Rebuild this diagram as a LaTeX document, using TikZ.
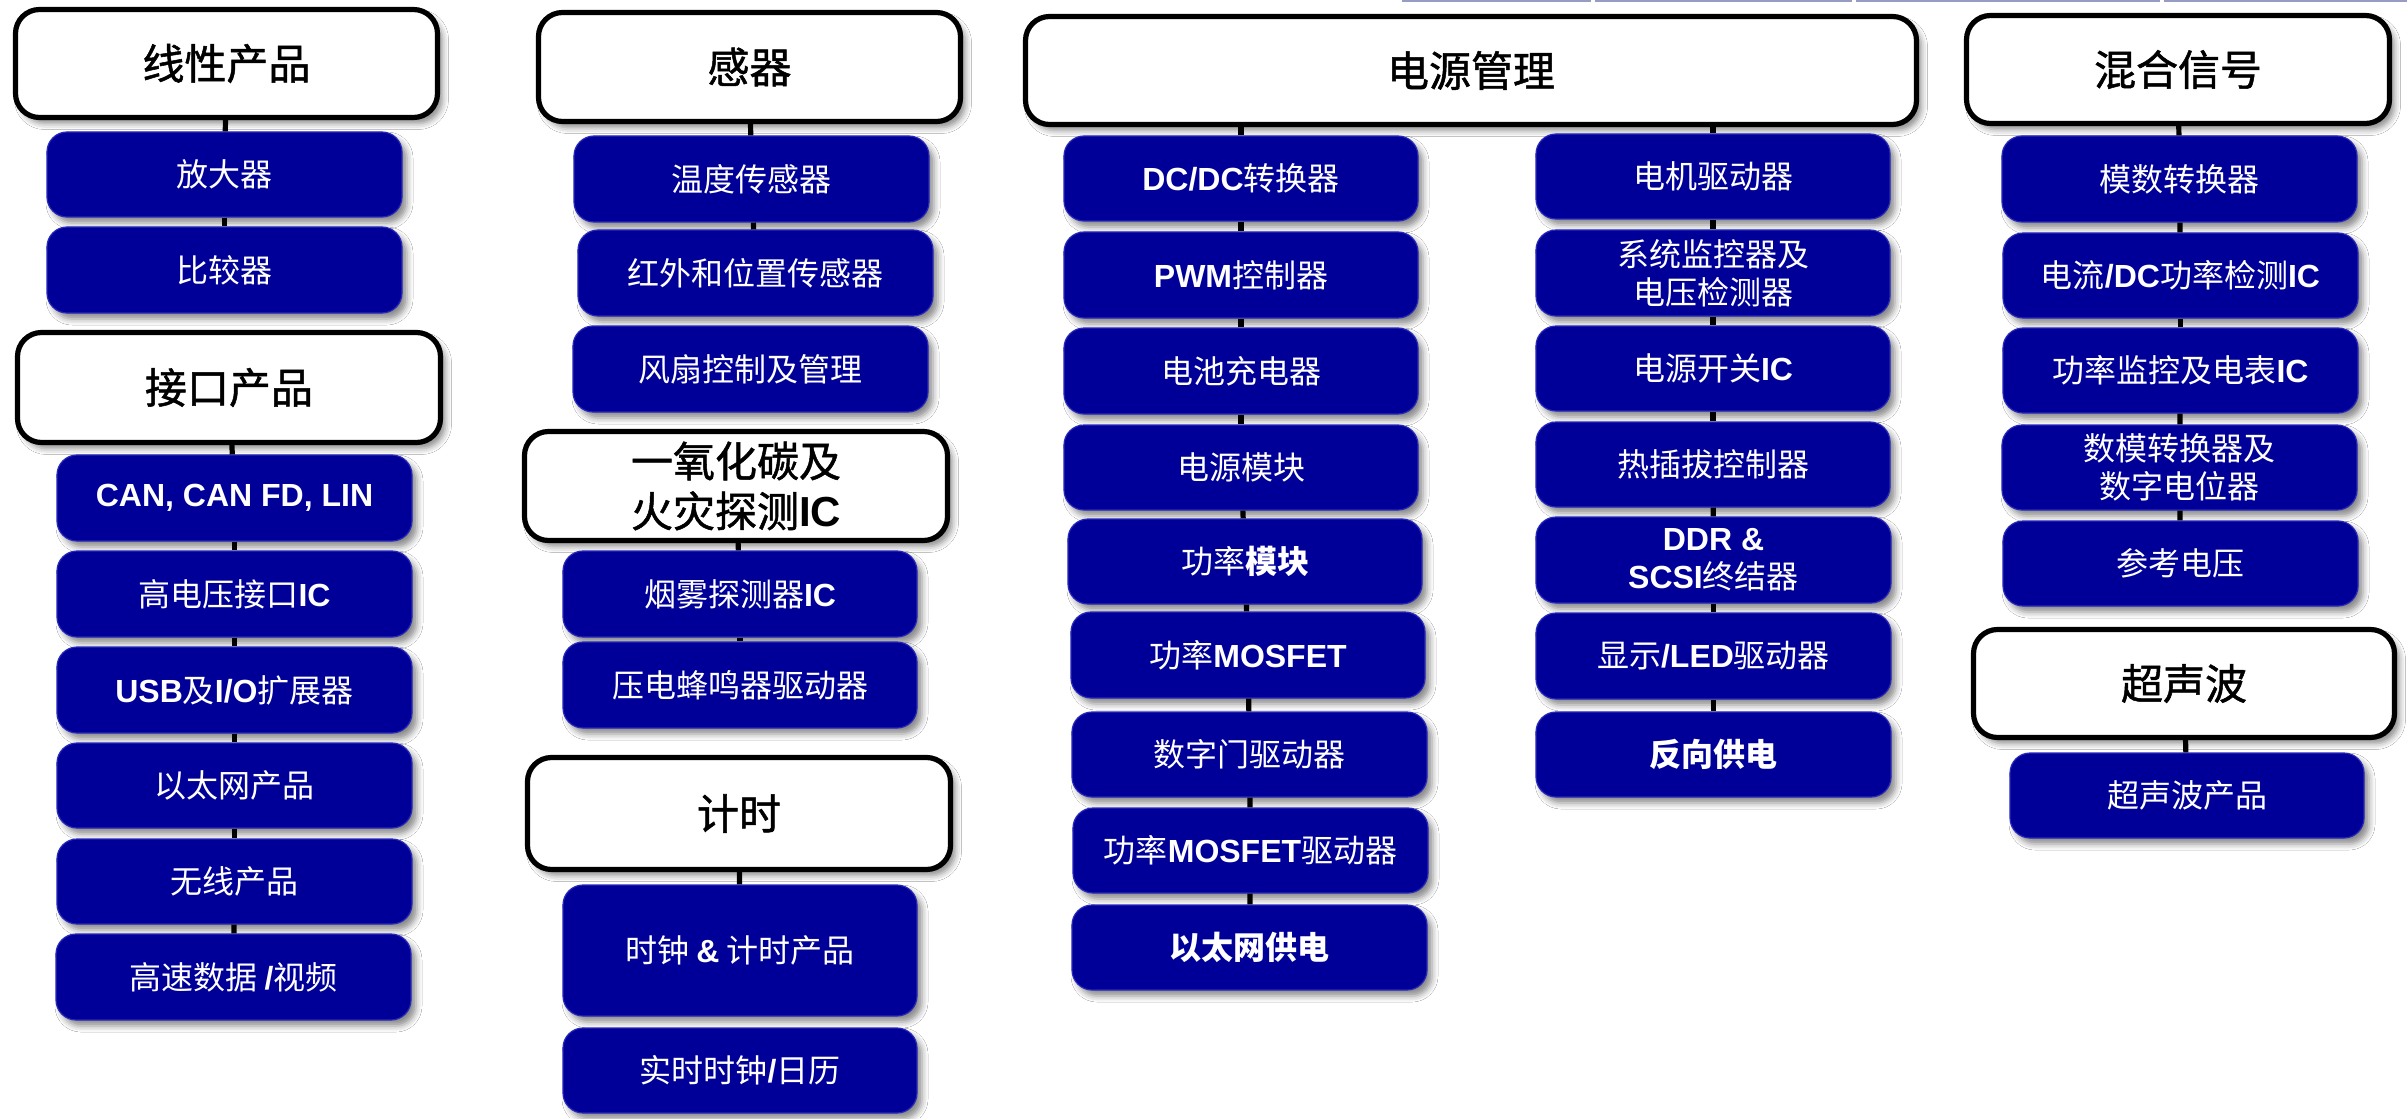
\documentclass[tikz,border=0pt]{standalone}
\usepackage{fontspec}
\setmainfont{Noto Sans CJK SC}
\newfontfamily\headf{Noto Sans CJK SC}[FakeBold=1.2]
\newfontfamily\latf{Liberation Sans}
\usetikzlibrary{shadows.blur}
\definecolor{itemblue}{RGB}{0,0,153}
\definecolor{itemedge}{RGB}{40,40,185}
\definecolor{topline}{RGB}{150,156,196}
\newcommand\E[1]{{\latf\bfseries #1}}
\tikzset{
  itembox/.style={draw=itemedge, line width=0.6pt, fill=itemblue, rounded corners=10pt,
    text=white, font=\fontsize{16}{19}\selectfont, align=center, inner sep=0pt,
    blur shadow={shadow xshift=2.5pt, shadow yshift=-3pt, shadow blur radius=3pt, shadow opacity=45}},
  headbox/.style={draw=black, line width=2.6pt, fill=white, rounded corners=12pt,
    text=black, font=\headf\fontsize{21}{25}\selectfont, align=center, inner sep=0pt,
    blur shadow={shadow xshift=2.5pt, shadow yshift=-3pt, shadow blur radius=3pt, shadow opacity=45}},
  conn/.style={line width=2.6pt, draw=black},
  faint/.style={draw=topline, line width=1pt}
}
\newcommand\ibox[6]{\node[itembox, minimum width={(#4-#2)*0.5pt}, minimum height={(#5-#3)*0.5pt}] (#1) at ({(#2+#4)/2},{(#3+#5)/2}) {#6};}
\newcommand\headnode[6]{\node[headbox, minimum width={(#4-#2-5)*0.5pt}, minimum height={(#5-#3-5)*0.5pt}] (#1) at ({(#2+#4)/2},{(#3+#5)/2}) {#6};}
\begin{document}
\begin{tikzpicture}[x=0.5pt,y=-0.5pt]
\useasboundingbox (0,0) rectangle (2407,1118);
\fill[white] (0,0) rectangle (2407,1118);
% faint top line
\draw[faint] (1402,1) -- (1591,1);
\draw[faint] (1595,1) -- (1852,1);
\draw[faint] (1856,1) -- (2160,1);
\draw[faint] (2164,1) -- (2407,1);

% ---- column 1
\headnode{hA}{13}{7}{440}{120}{线性产品}
\ibox{a1}{47}{132}{402}{217}{放大器}
\ibox{a2}{47}{227}{402}{313}{比较器}
\headnode{hB}{15}{330}{443}{445}{接口产品}
\ibox{b1}{57}{455}{412}{541}{\E{CAN, CAN FD, LIN}}
\ibox{b2}{57}{551}{412}{637}{高电压接口\E{IC}}
\ibox{b3}{57}{647}{412}{733}{\E{USB}及\E{I/O}扩展器}
\ibox{b4}{57}{743}{412}{828}{以太网产品}
\ibox{b5}{57}{839}{412}{924}{无线产品}
\ibox{b6}{56}{934}{411}{1020}{高速数据 \E{/}视频}

% ---- column 2
\headnode{hC}{536}{10}{963}{124}{感器}
\ibox{c1}{574}{136}{929}{222}{温度传感器}
\ibox{c2}{578}{230}{933}{316}{红外和位置传感器}
\ibox{c3}{573}{326}{928}{412}{风扇控制及管理}
\headnode{hD}{522}{429}{950}{543}{一氧化碳及\\火灾探测\E{IC}}
\ibox{d1}{563}{551}{917}{637}{烟雾探测器\E{IC}}
\ibox{d2}{563}{642}{917}{728}{压电蜂鸣器驱动器}
\headnode{hE}{525}{755}{953}{872}{计时}
\ibox{e1}{563}{885}{917}{1016}{时钟 \E{\&} 计时产品}
\ibox{e2}{563}{1028}{917}{1113}{实时时钟\E{/}日历}

% ---- column 3
\headnode{hF}{1023}{14}{1919}{127}{电源管理}
\ibox{f1}{1064}{136}{1418}{221}{\E{DC/DC}转换器}
\ibox{f2}{1064}{232}{1418}{318}{\E{PWM}控制器}
\ibox{f3}{1064}{328}{1418}{414}{电池充电器}
\ibox{f4}{1064}{425}{1418}{510}{电源模块}
\ibox{f5}{1068}{519}{1422}{604}{功率{\bfseries 模块}}
\ibox{f6}{1071}{612}{1425}{698}{功率\E{MOSFET}}
\ibox{f7}{1072}{712}{1427}{797}{数字门驱动器}
\ibox{f8}{1073}{808}{1428}{893}{功率\E{MOSFET}驱动器}
\ibox{f9}{1072}{905}{1427}{990}{{\bfseries 以太网供电}}
\ibox{g1}{1536}{134}{1890}{219}{电机驱动器}
\ibox{g2}{1536}{230}{1890}{316}{系统监控器及\\电压检测器}
\ibox{g3}{1536}{326}{1890}{411}{电源开关\E{IC}}
\ibox{g4}{1536}{422}{1890}{507}{热插拔控制器}
\ibox{g5}{1536}{517}{1891}{603}{\E{DDR \&}\\\E{SCSI}终结器}
\ibox{g6}{1536}{613}{1891}{699}{显示\E{/LED}驱动器}
\ibox{g7}{1536}{712}{1891}{797}{{\bfseries 反向供电}}

% ---- column 4
\headnode{hG}{1964}{13}{2392}{126}{混合信号}
\ibox{h1}{2002}{136}{2357}{222}{模数转换器}
\ibox{h2}{2003}{233}{2358}{318}{电流\E{/DC}功率检测\E{IC}}
\ibox{h3}{2003}{328}{2358}{413}{功率监控及电表\E{IC}}
\ibox{h4}{2002}{425}{2357}{510}{数模转换器及\\数字电位器}
\ibox{h5}{2003}{521}{2358}{606}{参考电压}
\headnode{hH}{1971}{627}{2397}{740}{超声波}
\ibox{i1}{2010}{753}{2364}{838}{超声波产品}

% ---- connectors
\draw[conn] (hA) -- (a1);
\draw[conn] (a1) -- (a2);
\draw[conn] (hB) -- (b1);
\draw[conn] (b1) -- (b2);
\draw[conn] (b2) -- (b3);
\draw[conn] (b3) -- (b4);
\draw[conn] (b4) -- (b5);
\draw[conn] (b5) -- (b6);
\draw[conn] (hC) -- (c1);
\draw[conn] (c1) -- (c2);
\draw[conn] (hD) -- (d1);
\draw[conn] (d1) -- (d2);
\draw[conn] (hE) -- (e1);
\draw[conn] (hF.south -| f1) -- (f1);
\draw[conn] (f1) -- (f2);
\draw[conn] (f2) -- (f3);
\draw[conn] (f3) -- (f4);
\draw[conn] (f4) -- (f5);
\draw[conn] (f5) -- (f6);
\draw[conn] (f6) -- (f7);
\draw[conn] (f7) -- (f8);
\draw[conn] (f8) -- (f9);
\draw[conn] (hF.south -| g1) -- (g1);
\draw[conn] (g1) -- (g2);
\draw[conn] (g2) -- (g3);
\draw[conn] (g3) -- (g4);
\draw[conn] (g4) -- (g5);
\draw[conn] (g5) -- (g6);
\draw[conn] (g6) -- (g7);
\draw[conn] (hG) -- (h1);
\draw[conn] (h1) -- (h2);
\draw[conn] (h2) -- (h3);
\draw[conn] (h3) -- (h4);
\draw[conn] (h4) -- (h5);
\draw[conn] (hH) -- (i1);
\end{tikzpicture}
\end{document}
